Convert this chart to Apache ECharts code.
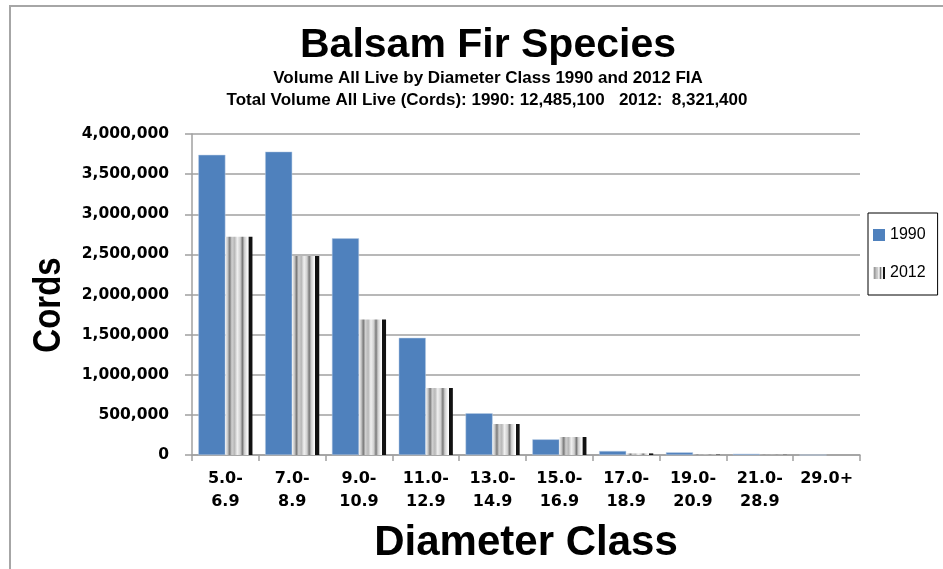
<!DOCTYPE html>
<html>
<head>
<meta charset="utf-8">
<script src="https://cdn.jsdelivr.net/npm/echarts@6/dist/echarts.min.js"></script>
<style>
  html, body { margin: 0; padding: 0; background: #fff; }
  #frame {
    position: absolute; left: 9px; top: 5px; right: 0; bottom: 0;
    border-left: 2px solid #a6a6a6; border-top: 2px solid #a6a6a6;
  }
  #chart { position: absolute; left: 0; top: 0; width: 943px; height: 569px; }
</style>
</head>
<body>
<div id="frame"></div>
<div id="chart"></div>
<script>
// diameter classes (two-line labels)
const categories = ['5.0-\n6.9', '7.0-\n8.9', '9.0-\n10.9', '11.0-\n12.9', '13.0-\n14.9',
  '15.0-\n16.9', '17.0-\n18.9', '19.0-\n20.9', '21.0-\n28.9', '29.0+']
const vol1990 = [3740000, 3780000, 2700000, 1460000, 520000, 195000, 50000, 33000, 15000, 0]
const vol2012 = [2720000, 2480000, 1690000, 835000, 386000, 224000, 20000, 4000, 2000, 0]
const yTicks = [0, 4000000, 500000] // min, max, step

const titleFont = 'Liberation Sans, Arial, sans-serif'
const labelFont = 'DejaVu Sans, Verdana, sans-serif'

// vertical stripes like the Excel pattern fill
const stripes = new echarts.graphic.LinearGradient(0, 0, 1, 0, [
  { offset: 0, color: '#f2f2f2' },
  { offset: 0.08, color: '#c8c8c8' },
  { offset: 0.16, color: '#7a7a7a' },
  { offset: 0.24, color: '#d0d0d0' },
  { offset: 0.34, color: '#b8b8b8' },
  { offset: 0.44, color: '#f0f0f0' },
  { offset: 0.55, color: '#cfcfcf' },
  { offset: 0.63, color: '#777777' },
  { offset: 0.70, color: '#cccccc' },
  { offset: 0.80, color: '#f4f4f4' },
  { offset: 0.85, color: '#ffffff' },
  { offset: 0.86, color: '#111111' },
  { offset: 1, color: '#111111' }
])

const chart = echarts.init(document.getElementById('chart'))

chart.setOption({
  animation: false,
  title: [
    {
      text: 'Balsam Fir Species',
      left: 483, top: 20, textAlign: 'center',
      textStyle: { fontFamily: titleFont, fontWeight: 'bold', fontSize: 41, color: '#000' }
    },
    {
      text: 'Volume All Live by Diameter Class 1990 and 2012 FIA',
      left: 483, top: 65, textAlign: 'center',
      textStyle: { fontFamily: titleFont, fontWeight: 'bold', fontSize: 17, color: '#000' }
    },
    {
      text: 'Total Volume All Live (Cords): 1990: 12,485,100   2012:  8,321,400',
      left: 482, top: 87, textAlign: 'center',
      textStyle: { fontFamily: titleFont, fontWeight: 'bold', fontSize: 17, color: '#000' }
    }
  ],
  graphic: [
    {
      // rotated y axis title, widened like the original
      type: 'text',
      x: 49, y: 305,
      rotation: Math.PI / 2,
      scaleY: 1.2,
      style: {
        text: 'Cords',
        fontFamily: titleFont, fontWeight: 'bold', fontSize: 33,
        fill: '#000', align: 'center', verticalAlign: 'middle'
      }
    }
  ],
  legend: {
    orient: 'vertical',
    left: 868, top: 213,
    width: 75,
    padding: [14, 12, 14, 5],
    itemGap: 22,
    itemWidth: 12, itemHeight: 12,
    borderColor: '#000', borderWidth: 1,
    icon: 'rect',
    itemStyle: { borderWidth: 0 },
    textStyle: { fontFamily: titleFont, fontSize: 16, color: '#000' },
    data: ['1990', '2012']
  },
  grid: { left: 192, right: 83, top: 134, bottom: 114, outerBoundsMode: 'none', containLabel: false },
  xAxis: {
    type: 'category',
    data: categories,
    name: 'Diameter Class',
    nameLocation: 'middle',
    nameGap: 67,
    nameTextStyle: { fontFamily: titleFont, fontWeight: 'bold', fontSize: 42, color: '#000' },
    axisLine: { lineStyle: { color: '#a0a0a0', width: 1.5 } },
    axisTick: { show: true, length: 6, lineStyle: { color: '#a0a0a0', width: 1.5 } },
    axisLabel: {
      fontFamily: labelFont, fontWeight: 'bold', fontSize: 16, lineHeight: 23,
      color: '#000', margin: 12, interval: 0
    }
  },
  yAxis: {
    type: 'value',
    min: yTicks[0], max: yTicks[1], interval: yTicks[2],
    axisLine: { show: true, lineStyle: { color: '#a0a0a0', width: 1.5 } },
    axisTick: { show: true, length: 7, lineStyle: { color: '#a0a0a0', width: 1.5 } },
    splitLine: { lineStyle: { color: '#a0a0a0', width: 1.5 } },
    axisLabel: {
      fontFamily: labelFont, fontWeight: 'bold', fontSize: 15.5, color: '#000', margin: 23,
      formatter: v => v.toLocaleString('en-US')
    }
  },
  series: [
    {
      name: '1990',
      type: 'bar',
      data: vol1990,
      barGap: '0%',
      barCategoryGap: '19%',
      itemStyle: { color: '#4f81bd', borderColor: '#b9cde5', borderWidth: 0.5 }
    },
    {
      name: '2012',
      type: 'bar',
      data: vol2012,
      itemStyle: { color: stripes }
    }
  ]
})
</script>
</body>
</html>
